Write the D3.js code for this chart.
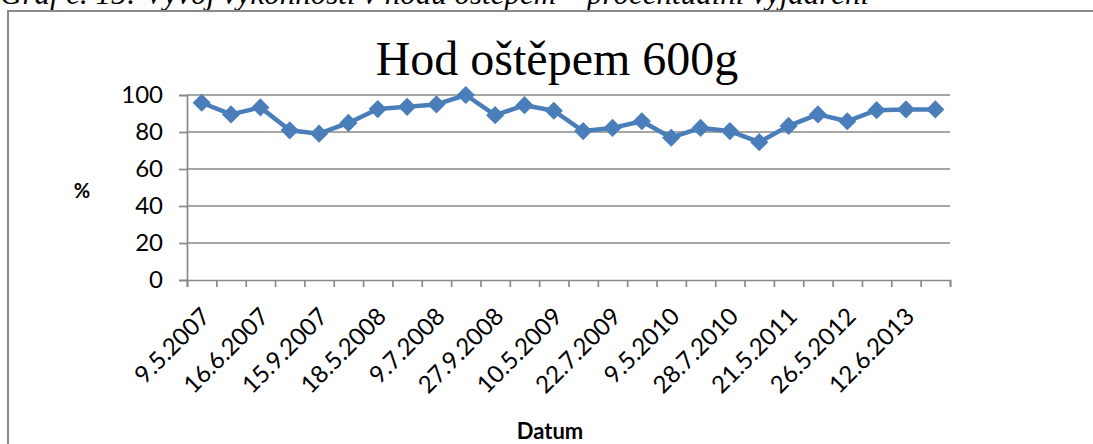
<!DOCTYPE html>
<html>
<head>
<meta charset="utf-8">
<script src="https://cdn.jsdelivr.net/npm/d3@7"></script>
<style>
  html, body { margin: 0; padding: 0; background: #fff; overflow: hidden; }
  svg { display: block; }
</style>
</head>
<body>
<svg id="chart" width="1093" height="444"></svg>
<script>
// Percentage of personal best per competition date (javelin 600 g)
const values = [95.8, 89.5, 93.3, 80.9, 79.1, 84.9, 92.4, 93.6, 94.9, 100,
                89.1, 94.5, 91.5, 80.5, 82.2, 85.8, 76.9, 82.2, 80.5, 74.5,
                83.3, 89.5, 85.8, 91.8, 92.2, 92.2];
// Axis labels printed under every second competition
const dateLabels = ["9.5.2007", "16.6.2007", "15.9.2007", "18.5.2008", "9.7.2008",
                    "27.9.2008", "10.5.2009", "22.7.2009", "9.5.2010", "28.7.2010",
                    "21.5.2011", "26.5.2012", "12.6.2013"];
const yTicks = [0, 20, 40, 60, 80, 100];

const chartTitle = "Hod oštěpem 600g";
const caption = "Graf č. 15: Vývoj výkonnosti v hodu oštěpem – procentuální vyjádření";
const xTitle = "Datum";
const yTitle = "%";

const svg = d3.select("#chart");
const plot = { left: 187, right: 950, top: 95, bottom: 280 };
const sansFont = "Lato, 'Open Sans', sans-serif";
const gridColor = "#898989";
const seriesColor = "#4A7EBB";

// Caption sitting above the chart frame (clipped at the top)
svg.append("text")
  .attr("x", 0).attr("y", 4)
  .attr("font-family", "'Liberation Serif', 'Times New Roman', serif")
  .attr("font-style", "italic")
  .attr("font-size", 31)
  .attr("fill", "#000")
  .text(caption);

// Chart frame
svg.append("rect")
  .attr("x", 8).attr("y", 11)
  .attr("width", 1200).attr("height", 600)
  .attr("fill", "none")
  .attr("stroke", "#8a8a8a")
  .attr("stroke-width", 2);

const idx = d3.range(values.length);
const x = d3.scaleBand().domain(idx).range([plot.left, plot.right]).padding(0);
const xEdges = d3.scaleLinear().domain([0, values.length]).range([plot.left, plot.right]);
const y = d3.scaleLinear().domain([0, 100]).range([plot.bottom, plot.top]);
const cx = i => x(i) + x.bandwidth() / 2;

// Horizontal gridlines + y axis labels
const yAxis = d3.axisLeft(y).tickValues(yTicks).tickSize(8).tickPadding(16).tickFormat(d3.format("d"));
const gy = svg.append("g").attr("transform", `translate(${plot.left},0)`).call(yAxis);
gy.select(".domain").attr("stroke", gridColor).attr("stroke-width", 1.7);
gy.selectAll(".tick line").attr("stroke", gridColor).attr("stroke-width", 1.7);
gy.selectAll(".tick text")
  .attr("font-family", sansFont).attr("font-size", 24).attr("fill", "#000");

svg.append("g").selectAll("line").data(yTicks.filter(d => d > 0)).join("line")
  .attr("x1", plot.left).attr("x2", plot.right)
  .attr("y1", d => y(d)).attr("y2", d => y(d))
  .attr("stroke", gridColor).attr("stroke-width", 1.7);

// X axis with tick marks between categories
const xAxis = d3.axisBottom(xEdges).tickValues(d3.range(values.length + 1)).tickSize(7).tickFormat("");
const gx = svg.append("g").attr("transform", `translate(0,${plot.bottom})`).call(xAxis);
gx.select(".domain").attr("stroke", gridColor).attr("stroke-width", 1.7);
gx.selectAll(".tick line").attr("stroke", gridColor).attr("stroke-width", 1.7);

// Rotated date labels on every second category
svg.append("g").selectAll("text").data(dateLabels).join("text")
  .attr("transform", (d, k) => `translate(${cx(k * 2) + 4},${plot.bottom + 32}) rotate(-45)`)
  .attr("text-anchor", "end")
  .attr("dy", "0.35em")
  .attr("font-family", sansFont).attr("font-size", 24).attr("fill", "#000")
  .text(d => d);

// Series line
svg.append("path")
  .datum(values)
  .attr("fill", "none")
  .attr("stroke", seriesColor)
  .attr("stroke-width", 4.5)
  .attr("stroke-linejoin", "round")
  .attr("d", d3.line().x((d, i) => cx(i)).y(d => y(d)));

// Diamond markers
const diamond = d3.symbol().type(d3.symbolDiamond2).size(210);
svg.append("g").selectAll("path").data(values).join("path")
  .attr("transform", (d, i) => `translate(${cx(i)},${y(d)})`)
  .attr("d", diamond)
  .attr("fill", seriesColor);

// Titles
svg.append("text")
  .attr("x", 557).attr("y", 75)
  .attr("text-anchor", "middle")
  .attr("font-family", "'Liberation Serif', 'Times New Roman', serif")
  .attr("font-size", 48)
  .attr("fill", "#000")
  .text(chartTitle);

svg.append("text")
  .attr("x", 82).attr("y", 198)
  .attr("text-anchor", "middle")
  .attr("font-family", sansFont).attr("font-weight", "bold")
  .attr("font-size", 20).attr("fill", "#000")
  .text(yTitle);

svg.append("text")
  .attr("x", 550).attr("y", 439)
  .attr("text-anchor", "middle")
  .attr("font-family", sansFont).attr("font-weight", "bold")
  .attr("font-size", 22).attr("fill", "#000")
  .text(xTitle);
</script>
</body>
</html>
